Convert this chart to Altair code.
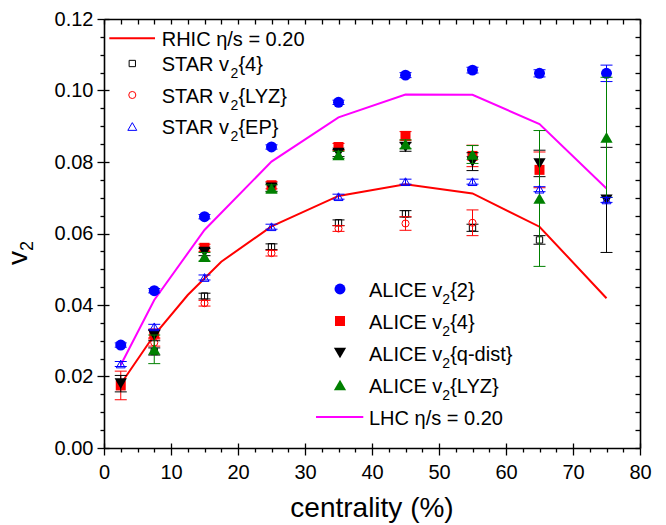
import altair as alt
import pandas as pd

# ---- data -------------------------------------------------------------
# centrality bin centres (%)
cent = [2.5, 7.5, 15, 25, 35, 45, 55, 65, 75]

# ALICE Pb-Pb 2.76 TeV
alice_v2_2 = [0.0288, 0.0440, 0.0647, 0.0842, 0.0967, 0.1043, 0.1057, 0.1048, 0.1048]
alice_v2_2_err = [0.0006, 0.0006, 0.0006, 0.0006, 0.0006, 0.0007, 0.0008, 0.0010, 0.0023]

alice_v2_4_cent = [2.5, 7.5, 15, 25, 35, 45, 55, 65]
alice_v2_4 = [0.0175, 0.0320, 0.0560, 0.0735, 0.0842, 0.0873, 0.0817, 0.0778]
alice_v2_4_err = [0.0040, 0.0012, 0.0010, 0.0010, 0.0010, 0.0012, 0.0030, 0.0050]

alice_v2_q = [0.0180, 0.0315, 0.0548, 0.0728, 0.0825, 0.0842, 0.0801, 0.0796, 0.0694]
alice_v2_q_err = [0.0023, 0.0015, 0.0010, 0.0010, 0.0010, 0.0012, 0.0025, 0.0037, 0.0147]

alice_v2_lyz_cent = [7.5, 15, 25, 35, 45, 55, 65, 75]
alice_v2_lyz = [0.0276, 0.0535, 0.0726, 0.0820, 0.0850, 0.0821, 0.0698, 0.0869]
alice_v2_lyz_err = [0.0040, 0.0012, 0.0010, 0.0010, 0.0012, 0.0025, 0.0190, 0.0168]

# STAR Au-Au 200 GeV
star_v2_4_cent = [7.5, 15, 25, 35, 45, 55, 65]
star_v2_4 = [0.0270, 0.0425, 0.0563, 0.0630, 0.0655, 0.0616, 0.0582]
star_v2_4_err = [0.0010, 0.0008, 0.0008, 0.0008, 0.0009, 0.0010, 0.0012]

star_v2_lyz_cent = [7.5, 15, 25, 35, 45, 55]
star_v2_lyz = [0.0295, 0.0405, 0.0545, 0.0614, 0.0628, 0.0630]
star_v2_lyz_err = [0.0010, 0.0008, 0.0008, 0.0008, 0.0019, 0.0036]

star_v2_ep = [0.0235, 0.0339, 0.0477, 0.0619, 0.0703, 0.0745, 0.0745, 0.0724, 0.0694]
star_v2_ep_err = [0.0007, 0.0007, 0.0007, 0.0007, 0.0007, 0.0007, 0.0007, 0.0007, 0.0007]

# viscous hydro, eta/s = 0.20
rhic_cent = [2.5, 7.5, 12.5, 17.5, 25, 35, 45, 55, 65, 75]
rhic_v2 = [0.0179, 0.0316, 0.0428, 0.0521, 0.0620, 0.0705, 0.0738, 0.0712, 0.0619, 0.0419]
lhc_cent = [2.5, 7.5, 15, 25, 35, 45, 55, 65, 75]
lhc_v2 = [0.0232, 0.0414, 0.0610, 0.0801, 0.0925, 0.0989, 0.0988, 0.0906, 0.0726]

# axis ticks
x_ticks = [0, 10, 20, 30, 40, 50, 60, 70, 80]
y_ticks = [0.00, 0.02, 0.04, 0.06, 0.08, 0.10, 0.12]

# legend texts
star_prefix = ["STAR v", "STAR v", "STAR v"]
star_suffix = ["{4}", "{LYZ}", "{EP}"]
alice_prefix = ["ALICE v", "ALICE v", "ALICE v", "ALICE v"]
alice_suffix = ["{2}", "{4}", "{q-dist}", "{LYZ}"]
line_labels = ["RHIC \u03b7/s = 0.20", "LHC \u03b7/s = 0.20"]

# ---- layout / style ----------------------------------------------------
W, H = 536, 429
FONT = "Liberation Sans"
BLUE, RED, BLACK, GREEN, MAGENTA = "#0000FF", "#FF0000", "#000000", "#008000", "#FF00FF"
LEG_FS, SUB_FS, SUB_SHIFT = 20, 14, 7

xs = alt.Scale(domain=[0, 80], nice=False, zero=False)
ys = alt.Scale(domain=[0, 0.12], nice=False, zero=False)

minor_x = [round(i * 2.5, 2) for i in range(33)]
minor_y = [round(i * 0.005, 3) for i in range(25)]
minor_x_only = [v for v in minor_x if v not in x_ticks]
minor_y_only = [v for v in minor_y if round(v / 0.02, 6) != round(v / 0.02)]

# Arial / Liberation Sans advance widths (1/1000 em)
AW = {" ": 278, "A": 667, "C": 722, "E": 667, "I": 278, "L": 556, "R": 722,
      "S": 667, "T": 611, "v": 500, "2": 556}


def tw(s, size):
    return sum(AW[ch] for ch in s) * size / 1000.0


def X(field):
    return alt.X(field, scale=xs, axis=None)


def Y(field):
    return alt.Y(field, scale=ys, axis=None)


def series(c, v, e, color, shape, size, filled, sw=1.0):
    lo = [a - b for a, b in zip(v, e)]
    hi = [a + b for a, b in zip(v, e)]
    df = pd.DataFrame({"c": c, "v": v, "lo": lo, "hi": hi})
    caps = pd.DataFrame({"c": list(c) * 2, "y": lo + hi})
    bar = alt.Chart(df).mark_rule(color=color, strokeWidth=1).encode(
        x=X("c:Q"), y=Y("lo:Q"), y2="hi:Q")
    cap = alt.Chart(caps).mark_tick(color=color, thickness=1, size=12,
                                    orient="horizontal", opacity=1).encode(
        x=X("c:Q"), y=Y("y:Q"))
    pts = alt.Chart(df).mark_point(shape=shape, color=color, filled=filled,
                                   size=size, strokeWidth=sw, opacity=1).encode(
        x=X("c:Q"), y=Y("v:Q"))
    return [bar, cap, pts]


def curve(c, v, color):
    df = pd.DataFrame({"c": c, "v": v})
    return alt.Chart(df).mark_line(color=color, strokeWidth=2).encode(
        x=X("c:Q"), y=Y("v:Q"))


# ---- axes (frame with Origin-style ticks) -------------------------------
anchor = pd.DataFrame({"c": [0], "v": [0]})
common = dict(title=None, grid=False, tickColor="black", tickWidth=1.3,
              domainColor="black", domainWidth=1.6, labelFont=FONT,
              labelFontSize=20, labelColor="black", labelFlush=False,
              labelOverlap=False)


def axis_layer(xaxis, yaxis):
    return alt.Chart(anchor).mark_point(opacity=0).encode(
        x=alt.X("c:Q", scale=xs, axis=xaxis),
        y=alt.Y("v:Q", scale=ys, axis=yaxis))


axes = [
    axis_layer(
        alt.Axis(orient="bottom", values=x_ticks, tickSize=7, labelPadding=7,
                 format="d", domain=True, **common),
        alt.Axis(orient="left", values=y_ticks, tickSize=7, labelPadding=4,
                 format=".2f", domain=True, **common)),
    axis_layer(
        alt.Axis(orient="bottom", values=minor_x_only, tickSize=4, labels=False,
                 domain=False, **common),
        alt.Axis(orient="left", values=minor_y_only, tickSize=4, labels=False,
                 domain=False, **common)),
    axis_layer(
        alt.Axis(orient="bottom", offset=-H, values=minor_x, tickSize=5,
                 labels=False, domain=True, **common),
        alt.Axis(orient="left", offset=-W, values=minor_y, tickSize=5,
                 labels=False, domain=True, **common)),
    axis_layer(
        alt.Axis(orient="top", offset=-H, values=x_ticks, tickSize=5,
                 labels=False, domain=False, **common),
        alt.Axis(orient="right", offset=-W, values=y_ticks, tickSize=5,
                 labels=False, domain=False, **common)),
]

# ---- data layers --------------------------------------------------------
data_layers = [curve(rhic_cent, rhic_v2, RED), curve(lhc_cent, lhc_v2, MAGENTA)]
data_layers += series(star_v2_4_cent, star_v2_4, star_v2_4_err, BLACK, "square", 40, False)
data_layers += series(star_v2_lyz_cent, star_v2_lyz, star_v2_lyz_err, RED, "circle", 50, False)
data_layers += series(cent, alice_v2_2, alice_v2_2_err, BLUE, "circle", 120, True)
data_layers += series(alice_v2_4_cent, alice_v2_4, alice_v2_4_err, RED, "square", 100, True)
data_layers += series(cent, alice_v2_q, alice_v2_q_err, BLACK, "triangle-down", 150, True)
data_layers += series(alice_v2_lyz_cent, alice_v2_lyz, alice_v2_lyz_err, GREEN, "triangle-up", 150, True)
data_layers += series(cent, star_v2_ep, star_v2_ep_err, BLUE, "triangle-up", 80, False)

# ---- legends (pixel positions inside the plot area) ----------------------
PX = alt.X("x:Q", scale=None, axis=None)
PY = alt.Y("y:Q", scale=None, axis=None)


def texts(rows, size):
    df = pd.DataFrame(rows, columns=["x", "y", "t"])
    return alt.Chart(df).mark_text(align="left", baseline="alphabetic", font=FONT,
                                   fontSize=size, color="black").encode(
        x=PX, y=PY, text="t:N")


def sub_label_rows(x0, ys_, prefixes, suffixes):
    main, sub = [], []
    for y, p, s in zip(ys_, prefixes, suffixes):
        base = y + 7.7
        main.append((x0, base, p))
        xs_ = x0 + tw(p, LEG_FS)
        sub.append((xs_, base + SUB_SHIFT, "2"))
        main.append((xs_ + tw("2", SUB_FS), base, s))
    return main, sub


leg1_y = [44.5, 76.0, 107.5]
leg2_y = [270.0, 302.0, 334.0, 366.0]
m1, s1 = sub_label_rows(57.7, leg1_y, star_prefix, star_suffix)
m2, s2 = sub_label_rows(265.0, leg2_y, alice_prefix, alice_suffix)
main_rows = m1 + m2 + [(57.7, 19.3 + 7.7, line_labels[0]), (265.0, 398.0 + 7.7, line_labels[1])]

legend_layers = [texts(main_rows, LEG_FS), texts(s1 + s2, SUB_FS)]

leg_lines = pd.DataFrame({"x": [5.3, 212.0], "x2": [51.0, 259.3], "y": [19.3, 398.0],
                          "col": [RED, MAGENTA]})
legend_layers.append(alt.Chart(leg_lines).mark_rule(strokeWidth=2).encode(
    x=PX, x2="x2:Q", y=PY, color=alt.Color("col:N", scale=None)))

leg_sym = pd.DataFrame({
    "x": [28.3, 28.3, 28.3, 236.0, 236.0, 236.0, 236.0],
    "y": leg1_y + leg2_y,
    "shape": ["square", "circle", "triangle-up", "circle", "square", "triangle-down", "triangle-up"],
    "col": [BLACK, RED, BLUE, BLUE, RED, BLACK, GREEN],
    "size": [40, 50, 80, 120, 100, 150, 150],
    "filled": [False, False, False, True, True, True, True],
})
for flag in (False, True):
    d = leg_sym[leg_sym["filled"] == flag]
    legend_layers.append(alt.Chart(d).mark_point(filled=flag, opacity=1, strokeWidth=1).encode(
        x=PX, y=PY, shape=alt.Shape("shape:N", scale=None),
        color=alt.Color("col:N", scale=None), size=alt.Size("size:Q", scale=None)))

# ---- axis titles --------------------------------------------------------
legend_layers.append(alt.Chart(pd.DataFrame({"x": [268.0], "y": [498.0], "t": ["centrality (%)"]}))
                     .mark_text(align="center", baseline="alphabetic", font=FONT, fontSize=28,
                                color="black").encode(x=PX, y=PY, text="t:N"))
legend_layers.append(alt.Chart(pd.DataFrame({"x": [-77.0], "y": [246.0], "t": ["v"]}))
                     .mark_text(align="left", baseline="alphabetic", font=FONT, fontSize=28,
                                angle=270, color="black").encode(x=PX, y=PY, text="t:N"))
legend_layers.append(alt.Chart(pd.DataFrame({"x": [-71.0], "y": [232.0], "t": ["2"]}))
                     .mark_text(align="left", baseline="alphabetic", font=FONT, fontSize=18,
                                angle=270, color="black").encode(x=PX, y=PY, text="t:N"))

chart = alt.layer(*axes, *data_layers, *legend_layers).resolve_scale(
    x="independent", y="independent"
).properties(
    width=W, height=H,
    autosize=alt.AutoSizeParams(type="none"),
    padding={"left": 104, "top": 19, "right": 26, "bottom": 77},
    background="white",
).configure_view(stroke="transparent")

chart.save("out.html", embed_options={"renderer": "svg", "actions": False})
